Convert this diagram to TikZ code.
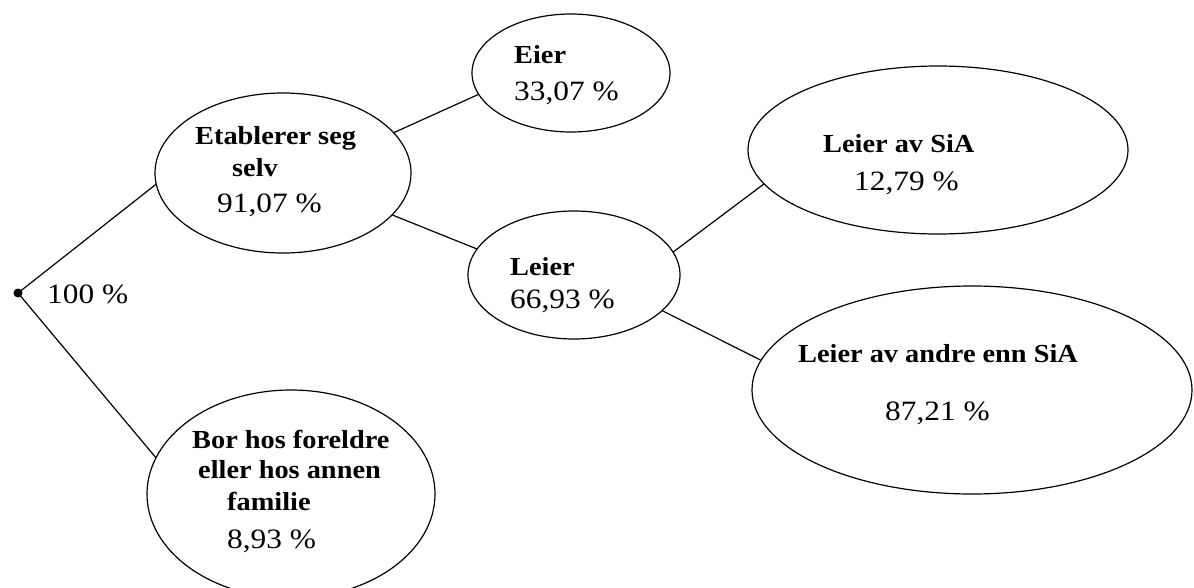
\documentclass[tikz,border=0pt]{standalone}
\usepackage{fontspec}
\setmainfont{Liberation Serif}[FakeStretch=1.12, BoldFeatures={FakeStretch=1.09}]
\usetikzlibrary{shapes.geometric}
\tikzset{
  oval/.style={draw=black, line width=1.2pt, ellipse, inner sep=0pt, outer sep=0pt},
  lbl/.style={anchor=base west, inner sep=0pt, font=\fontsize{26}{30}\selectfont\bfseries},
  num/.style={anchor=base west, inner sep=0pt, font=\fontsize{28}{32}\selectfont},
  conn/.style={draw=black, line width=1.2pt}
}
\begin{document}
\begin{tikzpicture}[x=1pt,y=-1pt]
\useasboundingbox (0,0) rectangle (1194,587);
% root
\node[circle, fill=black, inner sep=0pt, minimum size=9pt] (root) at (18,293) {};
\node[num] (p100) at (47,303) {100 \%};
% ellipses
\node[oval, minimum width=256pt, minimum height=160pt] (etab) at (283,173) {};
\node[oval, minimum width=198pt, minimum height=118pt] (eier) at (571,73) {};
\node[oval, minimum width=212pt, minimum height=128pt] (leier) at (574,275) {};
\node[oval, minimum width=380pt, minimum height=168pt] (sia) at (938,150) {};
\node[oval, minimum width=440pt, minimum height=208pt] (andre) at (972,390) {};
\node[oval, minimum width=288pt, minimum height=208pt] (bor) at (291,494) {};
% texts
\node[lbl] (t1) at (195,144) {Etablerer seg};
\node[lbl] (t2) at (232,176) {selv};
\node[num] (t3) at (217,212) {91,07 \%};
\node[lbl] (t4) at (514,63) {Eier};
\node[num] (t5) at (514,100) {33,07 \%};
\node[lbl] (t6) at (510,275) {Leier};
\node[num] (t7) at (510,308) {66,93 \%};
\node[lbl] (t8) at (823,152) {Leier av SiA};
\node[num] (t9) at (854,190) {12,79 \%};
\node[lbl] (t10) at (798,362) {Leier av andre enn SiA};
\node[num] (t11) at (885,420) {87,21 \%};
\node[lbl] (t12) at (192,448) {Bor hos foreldre};
\node[lbl] (t13) at (198,478) {eller hos annen};
\node[lbl] (t14) at (227,510) {familie};
\node[num] (t15) at (227,548) {8,93 \%};
% connectors
\draw[conn] (root.center) -- (etab.185);
\draw[conn] (root.center) -- (bor.165);
\draw[conn] (etab.20) -- (eier.193);
\draw[conn] (etab.339) -- (leier.165);
\draw[conn] (leier.13) -- (sia.191);
\draw[conn] (leier.338) -- (andre.172);
\end{tikzpicture}
\end{document}
